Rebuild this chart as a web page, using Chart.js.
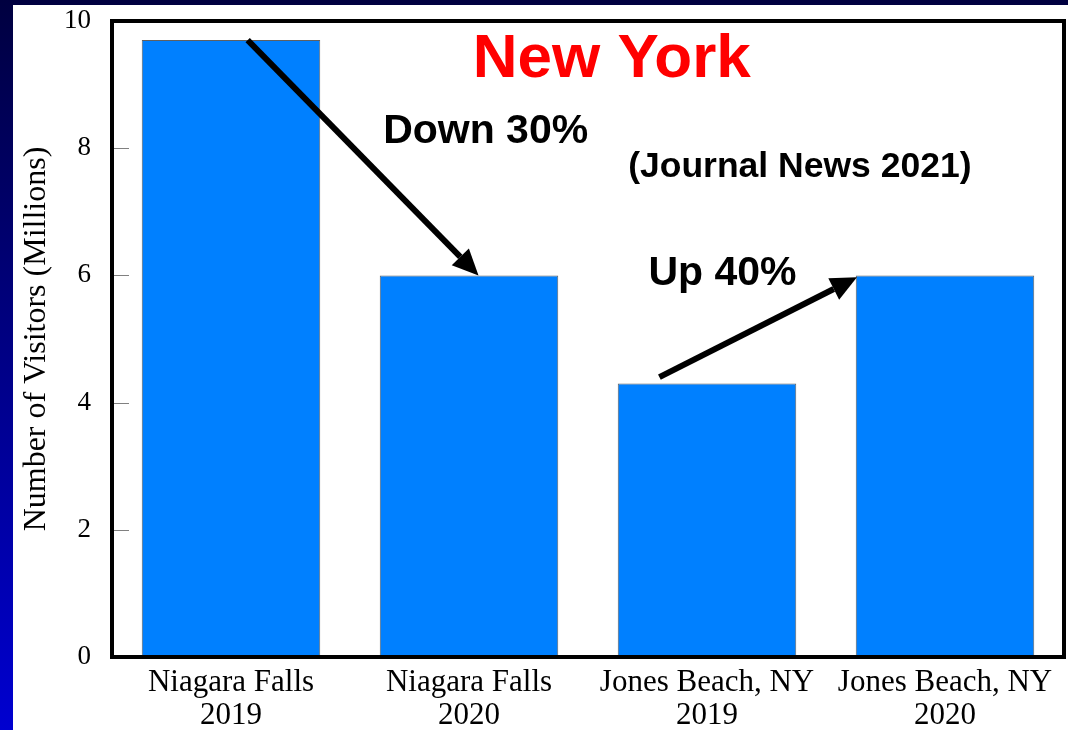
<!DOCTYPE html>
<html>
<head>
<meta charset="utf-8">
<script src="https://cdn.jsdelivr.net/npm/chart.js@4/dist/chart.umd.min.js"></script>
<style>
  html, body { margin: 0; padding: 0; }
  body {
    width: 1068px; height: 730px; overflow: hidden;
    background: linear-gradient(to bottom, #000040 0%, #000080 45%, #0000d0 100%);
    position: relative;
  }
  #wrap {
    position: absolute; left: 13px; top: 5px;
    width: 1055px; height: 725px; background: #ffffff;
  }
</style>
</head>
<body>
<div id="wrap"><canvas id="myChart" width="1055" height="725"></canvas></div>
<script>
// data
const categorias = [["Niagara Falls", "2019"], ["Niagara Falls", "2020"], ["Jones Beach, NY", "2019"], ["Jones Beach, NY", "2020"]];
const visitantes = [9.7, 6.0, 4.3, 6.0];
const ticksY = [0, 2, 4, 6, 8, 10];

// annotations: [category index, value]
const flechas = [
  { desde: [0.07, 9.7], hasta: [1.04, 6.0] },
  { desde: [1.80, 4.4], hasta: [2.63, 5.97] }
];
const textos = [
  { texto: "New York", pos: [1.60, 9.12], color: "#ff0000", size: 62 },
  { texto: "Down 30%", pos: [1.07, 8.08], color: "#000000", size: 41 },
  { texto: "(Journal News 2021)", pos: [2.39, 7.55], color: "#000000", size: 35.5 },
  { texto: "Up 40%", pos: [2.065, 5.85], color: "#000000", size: 41 }
];

const serif = "'Liberation Serif', 'Times New Roman', serif";
const sans = "'Liberation Sans', Arial, sans-serif";

const marco = {
  id: 'marco',
  afterDatasetsDraw(chart) {
    const ctx = chart.ctx;
    const a = chart.chartArea;
    const x = chart.scales.x;
    const y = chart.scales.y;
    ctx.save();
    // inner tick marks
    ctx.strokeStyle = '#808080';
    ctx.lineWidth = 1;
    for (const v of ticksY) {
      const py = Math.round(y.getPixelForValue(v)) + 0.5;
      ctx.beginPath();
      ctx.moveTo(a.left, py);
      ctx.lineTo(a.left + 17, py);
      ctx.stroke();
    }
    // frame
    ctx.strokeStyle = '#000000';
    ctx.lineWidth = 4;
    ctx.strokeRect(a.left, a.top, a.right - a.left, a.bottom - a.top);

    // arrows
    for (const f of flechas) {
      const x1 = x.getPixelForValue(f.desde[0]), y1 = y.getPixelForValue(f.desde[1]);
      const x2 = x.getPixelForValue(f.hasta[0]), y2 = y.getPixelForValue(f.hasta[1]);
      const ang = Math.atan2(y2 - y1, x2 - x1);
      const largo = 26, ancho = 12;
      const bx = x2 - largo * Math.cos(ang), by = y2 - largo * Math.sin(ang);
      ctx.strokeStyle = '#000000';
      ctx.lineWidth = 6;
      ctx.beginPath();
      ctx.moveTo(x1, y1);
      ctx.lineTo(bx, by);
      ctx.stroke();
      ctx.fillStyle = '#000000';
      ctx.beginPath();
      ctx.moveTo(x2, y2);
      ctx.lineTo(bx + ancho * Math.sin(ang), by - ancho * Math.cos(ang));
      ctx.lineTo(bx - ancho * Math.sin(ang), by + ancho * Math.cos(ang));
      ctx.closePath();
      ctx.fill();
    }

    // texts
    ctx.textAlign = 'center';
    ctx.textBaseline = 'alphabetic';
    for (const t of textos) {
      ctx.font = 'bold ' + t.size + 'px ' + sans;
      ctx.fillStyle = t.color;
      ctx.fillText(t.texto, x.getPixelForValue(t.pos[0]), y.getPixelForValue(t.pos[1]));
    }
    ctx.restore();
  }
};

const ctx = document.getElementById('myChart').getContext('2d');
const myChart = new Chart(ctx, {
  type: 'bar',
  data: {
    labels: categorias,
    datasets: [{
      label: 'Visitors',
      data: visitantes,
      backgroundColor: '#0080ff',
      borderColor: '#606060',
      borderWidth: 1,
      barPercentage: 0.75,
      categoryPercentage: 1.0
    }]
  },
  options: {
    responsive: false,
    animation: false,
    layout: { padding: { top: 16, right: 4, left: 0, bottom: 0 } },
    plugins: {
      legend: { display: false },
      tooltip: { enabled: false }
    },
    scales: {
      x: {
        grid: { display: false, drawTicks: false },
        border: { display: false },
        ticks: {
          color: '#000000',
          padding: 10,
          maxRotation: 0,
          autoSkip: false,
          font: { family: serif, size: 31, lineHeight: 1.05 }
        },
        afterFit(scale) { scale.height = 73; scale.paddingLeft = 0; scale.paddingRight = 0; }
      },
      y: {
        min: 0,
        max: 10,
        afterBuildTicks(scale) { scale.ticks = ticksY.map(v => ({ value: v })); },
        grid: { display: false, drawTicks: false },
        border: { display: false },
        ticks: {
          color: '#000000',
          padding: 21,
          font: { family: serif, size: 27 }
        },
        title: {
          display: true,
          text: 'Number of Visitors (Millions)',
          color: '#000000',
          padding: { top: 4, bottom: 0 },
          font: { family: serif, size: 32 }
        },
        afterFit(scale) { scale.width = 99; scale.paddingTop = 0; scale.paddingBottom = 0; }
      }
    }
  },
  plugins: [marco]
});
</script>
</body>
</html>
